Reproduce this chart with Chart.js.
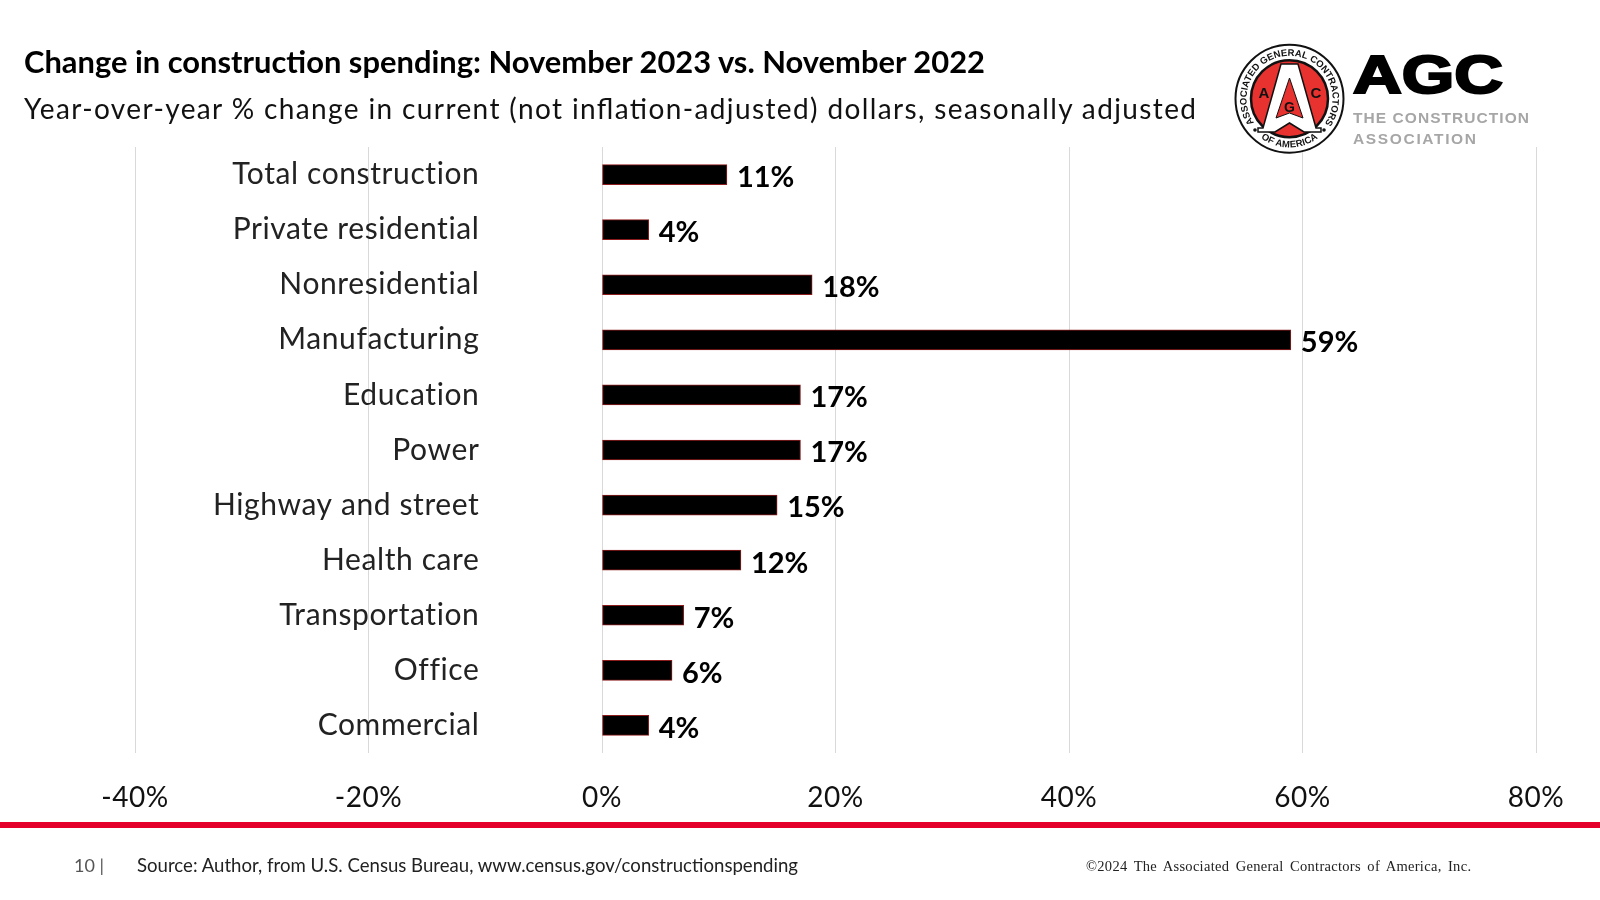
<!DOCTYPE html>
<html>
<head>
<meta charset="utf-8">
<script src="https://cdn.jsdelivr.net/npm/chart.js@4"></script>
<style>
html,body{margin:0;padding:0;background:#fff;width:1600px;height:900px;overflow:hidden}
#wrap{position:relative;width:1600px;height:900px}
canvas{position:absolute;left:0;top:0}
svg{position:absolute;left:0;top:0;pointer-events:none}
</style>
</head>
<body>
<div id="wrap">
<canvas id="c" width="1600" height="900"></canvas>
<svg width="1600" height="900" viewBox="0 0 1600 900" xmlns="http://www.w3.org/2000/svg">
  <text x="24" y="73" font-family="Lato" font-weight="700" font-size="30" fill="#000" textLength="961" lengthAdjust="spacingAndGlyphs">Change in construction spending: November 2023 vs. November 2022</text>
  <text x="24" y="119" font-family="Lato" font-size="28" fill="#111" textLength="1172" lengthAdjust="spacing">Year-over-year % change in current (not inflation-adjusted) dollars, seasonally adjusted</text>

  <rect x="0" y="822" width="1600" height="6" fill="#e4002b"/>
  <text x="74" y="872" font-family="Lato" font-size="18" fill="#555" textLength="30" lengthAdjust="spacingAndGlyphs">10 |</text>
  <text x="137" y="872" font-family="Lato" font-size="19" fill="#222" textLength="661" lengthAdjust="spacingAndGlyphs">Source: Author, from U.S. Census Bureau, www.census.gov/constructionspending</text>
  <text x="1086" y="871" font-family="Liberation Serif" font-size="14.5" fill="#222" word-spacing="2.5" textLength="385" lengthAdjust="spacing">©2024 The Associated General Contractors of America, Inc.</text>

  <g id="logo">
    <circle cx="1289.5" cy="98.7" r="54" fill="#fff" stroke="#111" stroke-width="2"/>
    <circle cx="1289.5" cy="98.7" r="38.5" fill="#e8322f" stroke="#111" stroke-width="2.5"/>
    <defs>
      <path id="arcTop" d="M 1254 123 A 43 43 0 1 1 1325 123"/>
      <path id="arcBot" d="M 1257 135 A 49 49 0 0 0 1322 135"/>
    </defs>
    <text font-family="Liberation Sans" font-weight="700" font-size="9.5" fill="#111"><textPath href="#arcTop" textLength="187">ASSOCIATED GENERAL CONTRACTORS</textPath></text>
    <text font-family="Liberation Sans" font-weight="700" font-size="9.5" fill="#111"><textPath href="#arcBot" startOffset="5" textLength="61">OF AMERICA</textPath></text>
    <circle cx="1255" cy="130" r="1.8" fill="#111"/>
    <circle cx="1324" cy="130" r="1.8" fill="#111"/>
    <path d="M1281 64 L1298 64 L1316 128 L1321 128 L1321 132 L1304 132 L1289.5 123 L1275 132 L1258 132 L1258 128 L1263 128 Z" fill="#fff" stroke="#111" stroke-width="1.5"/>
    <path d="M1289.5 78 L1303 118 L1289.5 113 L1276 118 Z" fill="#e8322f" stroke="#111" stroke-width="1"/>
    <text x="1289.5" y="112" text-anchor="middle" font-family="Liberation Sans" font-weight="700" font-size="14" fill="#111">G</text>
    <text x="1264" y="98" text-anchor="middle" font-family="Liberation Sans" font-weight="700" font-size="15" fill="#111">A</text>
    <text x="1316" y="98" text-anchor="middle" font-family="Liberation Sans" font-weight="700" font-size="15" fill="#111">C</text>
    <text x="1353" y="93" font-family="Liberation Sans" font-weight="700" font-size="53" fill="#000" stroke="#000" stroke-width="2.2" textLength="150" lengthAdjust="spacingAndGlyphs">AGC</text>
    <text x="1353" y="122.5" font-family="Liberation Sans" font-weight="700" font-size="15.5" fill="#a6a6a6" textLength="176" lengthAdjust="spacing">THE CONSTRUCTION</text>
    <text x="1353" y="143.5" font-family="Liberation Sans" font-weight="700" font-size="15.5" fill="#a6a6a6" textLength="123" lengthAdjust="spacing">ASSOCIATION</text>
  </g>
</svg>
</div>
<script>
const categories = ["Total construction","Private residential","Nonresidential","Manufacturing","Education","Power","Highway and street","Health care","Transportation","Office","Commercial"];
const changePct = [10.7,4,18,59,17,17,15,11.9,7,6,4];
const changeLabels = ["11%","4%","18%","59%","17%","17%","15%","12%","7%","6%","4%"];
const xTicks = [-40,-20,0,20,40,60,80];

const textTracking = {
  id:'textTracking',
  beforeDraw(chart){ chart.ctx.letterSpacing = '0.6px'; }
};
const valueLabels = {
  id:'valueLabels',
  afterDatasetsDraw(chart){
    const {ctx} = chart;
    ctx.save();
    ctx.letterSpacing = '0px';
    ctx.font = '700 29px Lato';
    ctx.fillStyle = '#000';
    ctx.textAlign = 'left';
    ctx.textBaseline = 'middle';
    chart.getDatasetMeta(0).data.forEach((bar,i)=>{
      ctx.fillText(changeLabels[i], bar.x + 10, bar.y + 3);
    });
    ctx.restore();
  }
};

new Chart(document.getElementById('c'),{
  type:'bar',
  data:{labels:categories,datasets:[{
    data:changePct,
    backgroundColor:'#000',
    borderColor:'#8c1c1c',
    borderWidth:1,
    barThickness:20,
    borderSkipped:false
  }]},
  plugins:[textTracking,valueLabels],
  options:{
    indexAxis:'y',
    responsive:false,
    animation:false,
    layout:{padding:{left:135,right:64,top:147,bottom:67}},
    plugins:{legend:{display:false},title:{display:false},tooltip:{enabled:false}},
    scales:{
      x:{
        type:'linear',min:-40,max:80,
        afterBuildTicks(s){s.ticks = xTicks.map(v=>({value:v}));},
        afterFit(s){s.height = 80;},
        grid:{color:'#d9d9d9',lineWidth:1,drawTicks:false},
        border:{display:false},
        ticks:{
          padding:28,
          maxRotation:0,autoSkip:false,
          color:'#111',
          font:{family:'Lato',size:28},
          callback:v=>v+'%'
        }
      },
      y:{
        position:{x:-10.5},
        grid:{display:false,drawTicks:false},
        border:{display:false},
        ticks:{color:'#222',autoSkip:false,font:{family:'Lato',size:30}}
      }
    }
  }
});
</script>
</body>
</html>
